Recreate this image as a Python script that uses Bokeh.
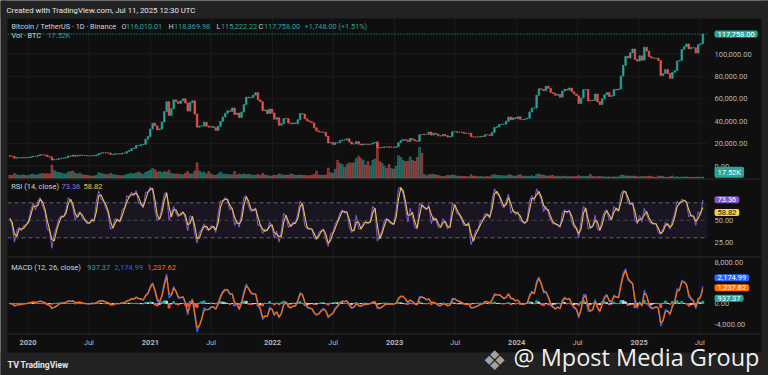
import numpy as np
import pandas as pd
from bokeh.plotting import figure
from bokeh.models import Range1d, BoxAnnotation, Label
from bokeh.embed import file_html
from bokeh.resources import INLINE

# ---------------- data: weekly candles ----------------
first_week = "2019-11-04"
first_open = 9200
close_2019 = [8800, 8500, 6900, 7400, 7500, 7100, 7500, 7400]
close_2020 = [7750, 8180, 8700, 8600, 9350, 10150, 9900, 9700, 8550, 8050,
              5400, 5830, 5900, 6780, 6900, 7120, 7700, 8900, 8730, 9670,
              8720, 9450, 9750, 9320, 9300, 9120, 9070, 9280, 9160, 9930,
              11050, 11680, 11850, 11650, 11700, 10250, 10330, 10920, 10770, 10670,
              11380, 11500, 13030, 13740, 15480, 15960, 18400, 18200, 19150, 19270,
              23850, 26300]
close_2021 = [33000, 38150, 35800, 32250, 33100, 39250, 48580, 57400, 45200, 51200,
              59000, 57350, 55800, 58200, 60000, 56200, 49000, 56600, 58200, 46400,
              34700, 35650, 35800, 39100, 35500, 34700, 35300, 34250, 31780, 35400,
              39850, 43800, 47050, 49300, 48800, 51750, 46050, 47250, 43200, 48200,
              54950, 61500, 60850, 61300, 63300, 65500, 59000, 57300, 49400, 50100,
              46700, 50800]
close_2022 = [47300, 41850, 43100, 36300, 37900, 42400, 42200, 38400, 37700, 38400,
              37800, 41250, 46800, 46400, 42150, 40400, 39450, 38470, 34060, 31300,
              30300, 30450, 29900, 26600, 20550, 21030, 19300, 20850, 20800, 22580,
              23300, 23170, 24300, 21520, 19550, 19800, 21830, 19420, 18800, 19630,
              19420, 19260, 19570, 20630, 20900, 16330, 16280, 16450, 17100, 17090,
              16740, 16840]
close_2023 = [16600, 17130, 20870, 22700, 23740, 22940, 21780, 24600, 23490, 22430,
              22000, 28000, 27990, 28450, 28330, 30300, 27590, 29230, 28450, 26920,
              26750, 28070, 27100, 25850, 26340, 30530, 30600, 30170, 30250, 30080,
              29280, 29050, 29300, 26100, 26000, 25800, 25840, 26530, 26250, 27980,
              27920, 27160, 29990, 34530, 35000, 37060, 37360, 37450, 39970, 43790,
              41370, 43000]
close_2024 = [42280, 43950, 41730, 41580, 42030, 42580, 48300, 51650, 51730, 63110,
              68960, 68390, 67210, 71280, 69360, 65660, 64940, 63120, 63890, 61480,
              66940, 68510, 67750, 69650, 66190, 64250, 62680, 55850, 60800, 68160,
              68250, 58110, 58710, 58430, 64220, 57300, 54840, 59990, 63580, 65600,
              62080, 62850, 68360, 67940, 68790, 80370, 89850, 97900, 96410, 101150,
              104460, 95100, 93720]
close_2025 = [98360, 94500, 106000, 102600, 97700, 96500, 96100, 96300, 94250, 80700,
              82580, 86080, 82550, 78300, 83700, 85100, 93700, 94300, 104100, 106500,
              109000, 104600, 105700, 105500, 100900, 108400, 109200, 117758]

# volume (thousand BTC, visual level per week)
vol_2019 = [50, 45, 75, 55, 45, 45, 55, 40]
vol_2020 = [45, 60, 65, 50, 55, 70, 75, 70, 75, 70, 220, 130, 100, 90, 85, 70, 70, 100,
            110, 120, 80, 70, 80, 55, 50, 45, 40, 35, 35, 45, 90, 80, 70, 65, 55, 80,
            60, 50, 50, 40, 40, 45, 60, 70, 80, 70, 85, 100, 80, 60, 95, 110]
vol_2021 = [130, 160, 140, 100, 110, 90, 110, 100, 130, 80, 70, 65, 70, 60, 55, 80, 110,
            70, 70, 120, 260, 120, 90, 100, 70, 110, 70, 50, 45, 70, 100, 70, 65, 60,
            55, 55, 110, 50, 70, 55, 70, 60, 65, 55, 45, 50, 60, 45, 80, 50, 45, 35]
vol_2022 = [35, 50, 45, 70, 60, 45, 50, 45, 70, 60, 45, 45, 50, 45, 45, 40, 40, 45, 60,
            120, 50, 45, 45, 50, 170, 90, 80, 150, 300, 250, 230, 180, 230, 260, 250,
            260, 330, 370, 330, 300, 220, 280, 200, 300, 320, 620, 280, 250, 200, 160,
            230, 160]
vol_2023 = [150, 200, 380, 350, 300, 280, 280, 360, 300, 280, 350, 520, 420, 60, 40, 55,
            60, 65, 50, 45, 30, 25, 30, 45, 40, 55, 45, 30, 35, 25, 25, 25, 20, 55, 30,
            35, 20, 25, 20, 20, 25, 20, 45, 60, 45, 45, 40, 40, 35, 55, 50, 35]
vol_2024 = [30, 45, 60, 30, 35, 25, 30, 40, 25, 60, 70, 50, 50, 35, 35, 40, 45, 25, 35,
            20, 30, 30, 20, 25, 25, 20, 25, 40, 25, 30, 25, 30, 60, 25, 20, 25, 25, 20,
            20, 15, 20, 15, 20, 15, 20, 45, 50, 35, 35, 35, 30, 35, 20]
vol_2025 = [20, 25, 25, 25, 30, 30, 15, 12, 35, 30, 25, 15, 12, 20, 35, 12, 20, 12, 18,
            15, 20, 12, 12, 12, 12, 15, 8, 17.52]

# RSI (14, close), weekly reading of the purple line
rsi_2019 = [52, 44, 25, 38, 42, 38, 44, 45]
rsi_2020 = [50, 62, 70, 62, 72, 76, 66, 60, 40, 38, 18, 35, 42, 52, 55, 54, 62, 76, 72, 64,
            50, 57, 60, 52, 50, 46, 47, 52, 48, 72, 84, 74, 72, 64, 58, 40, 42, 52, 50, 48,
            62, 64, 78, 76, 82, 78, 84, 70, 68, 64, 82, 82]
rsi_2021 = [88, 85, 62, 50, 52, 66, 80, 82, 50, 58, 66, 58, 54, 58, 60, 52, 38, 55, 54, 34,
            24, 36, 40, 46, 40, 38, 44, 42, 36, 58, 72, 72, 76, 72, 62, 64, 44, 50, 42, 58,
            76, 78, 66, 60, 62, 64, 44, 45, 35, 40, 38, 48]
rsi_2022 = [42, 30, 38, 25, 38, 58, 54, 42, 44, 48, 46, 58, 72, 66, 44, 40, 40, 40, 30, 28,
            36, 38, 40, 28, 20, 34, 36, 46, 50, 58, 62, 58, 60, 42, 36, 40, 56, 40, 40, 48,
            48, 46, 50, 66, 62, 26, 32, 38, 50, 52, 48, 46]
rsi_2023 = [45, 62, 86, 88, 80, 64, 48, 64, 54, 42, 40, 70, 66, 64, 62, 68, 46, 54, 50, 42,
            42, 52, 46, 40, 44, 70, 66, 58, 56, 50, 44, 44, 48, 22, 30, 38, 40, 50, 50, 58,
            56, 52, 74, 86, 80, 78, 68, 64, 72, 80, 58, 62]
rsi_2024 = [56, 60, 50, 48, 46, 52, 72, 78, 72, 86, 80, 74, 60, 66, 58, 50, 46, 46, 44, 42,
            58, 62, 58, 62, 48, 42, 40, 30, 50, 66, 62, 40, 42, 44, 56, 40, 38, 52, 60, 62,
            50, 52, 66, 62, 60, 80, 84, 82, 70, 68, 70, 50, 46]
rsi_2025 = [56, 48, 64, 56, 50, 46, 46, 46, 36, 34, 40, 48, 44, 40, 50, 58, 72, 68, 74, 72,
            70, 54, 56, 54, 44, 60, 56, 73.36]

# axis ticks and headline values
x_tick_dates = ["2020-01-01", "2020-07-01", "2021-01-01", "2021-07-01", "2022-01-01",
                "2022-07-01", "2023-01-01", "2023-07-01", "2024-01-01", "2024-07-01",
                "2025-01-01", "2025-07-01"]
x_tick_labels = ["2020", "Jul", "2021", "Jul", "2022", "Jul", "2023", "Jul", "2024",
                 "Jul", "2025", "Jul"]
price_ticks = [0, 20000, 40000, 60000, 80000, 100000]
rsi_ticks = [25, 50]
rsi_levels = [70, 50, 30]
macd_ticks = [8000, 0, -4000]
last_o, last_h, last_l, last_c = 116010.01, 118869.98, 115222.22, 117758.00
chg, chg_pct = 1748.00, 1.51
last_vol_k = 17.52
rsi_last, rsi_ma_last = 73.36, 58.82
macd_last, signal_last, hist_last = 2174.99, 1237.62, 937.37

# ---------------- assemble series ----------------
close = np.array(close_2019 + close_2020 + close_2021 + close_2022 + close_2023
                 + close_2024 + close_2025, dtype=float)
vol = np.array(vol_2019 + vol_2020 + vol_2021 + vol_2022 + vol_2023 + vol_2024
               + vol_2025, dtype=float)
rsi = np.array(rsi_2019 + rsi_2020 + rsi_2021 + rsi_2022 + rsi_2023 + rsi_2024
               + rsi_2025, dtype=float)
n = len(close)
assert len(vol) == n and len(rsi) == n, (n, len(vol), len(rsi))
opens = np.concatenate([[first_open], close[:-1]])
weeks = pd.date_range(first_week, periods=n, freq="7D")
origin = pd.Timestamp("2020-01-01")
xd = (weeks - origin).days.values + 3.5
up = close >= opens

rsi_ma = pd.Series(rsi).rolling(2, min_periods=1).mean().values

def ema(v, period_days):
    a = 1 - (1 - 2.0 / (period_days + 1)) ** 7   # daily EMA expressed per week
    out, e = [], v[0]
    for x in v:
        e = e + a * (x - e)
        out.append(e)
    return np.array(out)

macd = ema(close, 12) - ema(close, 26)
signal = ema(macd, 9)
hist = macd - signal
hist_col = []
for i, h in enumerate(hist):
    prev = hist[i - 1] if i else 0.0
    if h >= 0:
        hist_col.append("#26a69a" if h >= prev else "#b2dfdb")
    else:
        hist_col.append("#ff5252" if h < prev else "#ffcdd2")

# ---------------- layout (canvas pixels) ----------------
W, H = 768, 375
CH_L, CH_R, CH_T, CH_B = 7, 707, 18, 333      # chart panes
BLK_R, BLK_B = 761, 352                       # dark chart block incl. scales
X0_PX, PX_PER_DAY = 27.5, 0.3345
PRICE0_PX, PX_PER_USD = 165.5, 22.4 / 20000
RSI50_PX, PX_PER_RSI = 219.8, 0.875
MACD0_PX, PX_PER_MACD = 303.0, 20.6 / 4000
VOL0_PX, PX_PER_KVOL = 177.5, 1 / 17.0
SEP_Y = [178.5, 256.5, 333.5]
TAG_X, SCALE_X = 714, 714

def yr(zero_px, zero_val, ppu):
    return Range1d(zero_val - (H - zero_px) / ppu, zero_val + zero_px / ppu)

def lx(px):
    return (px - X0_PX) / PX_PER_DAY

def ly(py):
    return (PRICE0_PX - py) / PX_PER_USD

BG, OUTER, GRID, SEP = "#0f0f0f", "#222222", "#1b1b1b", "#2a2a2a"
TXT, AXC = "#d1d4dc", "#b2b5be"
UP, DN = "#26a69a", "#ef5350"
RSI_C, RSIMA_C = "#7e57c2", "#eac54f"
MACD_C, SIG_C = "#2962ff", "#ff6d00"
FONT = "Roboto"

p = figure(width=W, height=H, output_backend="svg", toolbar_location=None,
           x_range=Range1d(lx(0), lx(W)), y_range=yr(PRICE0_PX, 0, PX_PER_USD),
           x_axis_location=None, y_axis_location=None,
           min_border=0, min_border_left=0, min_border_right=0, min_border_top=0,
           min_border_bottom=0, background_fill_color=BG, border_fill_color=OUTER,
           outline_line_color=None)
p.xgrid.visible = False
p.ygrid.visible = False
p.extra_y_ranges = {
    "rsi": yr(RSI50_PX, 50, PX_PER_RSI),
    "macd": yr(MACD0_PX, 0, PX_PER_MACD),
    "vol": yr(VOL0_PX, 0, PX_PER_KVOL),
}

x_ticks = np.array((pd.to_datetime(x_tick_dates) - origin).days, dtype=float)

# grid lines (time grid through all panes, price grid in the price pane)
p.segment(x0=x_ticks, x1=x_ticks, y0=ly(CH_T), y1=ly(CH_B), line_color=GRID, line_width=1)
p.segment(x0=lx(CH_L), x1=lx(CH_R), y0=price_ticks, y1=price_ticks, line_color=GRID,
          line_width=1)

# pane separators
for py in SEP_Y:
    p.segment(x0=lx(CH_L), x1=lx(BLK_R), y0=ly(py), y1=ly(py), line_color=SEP,
              line_width=1)

# volume
p.vbar(x=xd, top=vol, bottom=0, width=5.5, y_range_name="vol",
       color=[UP if u else DN for u in up], alpha=0.45)
# candles (weekly bodies)
cc = [UP if u else DN for u in up]
p.vbar(x=xd, top=np.maximum(opens, close), bottom=np.minimum(opens, close), width=4.5,
       fill_color=cc, line_color=cc, line_width=0.7)
p.segment(x0=lx(CH_L), x1=lx(CH_R), y0=last_c, y1=last_c, line_color=UP,
          line_dash="1 2", line_width=1)

# RSI
p.add_layout(BoxAnnotation(left=lx(CH_L), right=lx(CH_R), bottom=30, top=70,
                           y_range_name="rsi", fill_color=RSI_C, fill_alpha=0.1,
                           line_color=None, level="underlay"))
p.segment(x0=lx(CH_L), x1=lx(CH_R), y0=rsi_levels, y1=rsi_levels, y_range_name="rsi",
          line_color="#787b86", line_dash="4 3", line_alpha=[0.8, 0.45, 0.8])
p.line(xd, rsi, y_range_name="rsi", line_color=RSI_C, line_width=1.1)
p.line(xd, rsi_ma, y_range_name="rsi", line_color=RSIMA_C, line_width=1.1)

# MACD
p.vbar(x=xd, top=hist, bottom=0, width=5.5, y_range_name="macd", color=hist_col)
p.line(xd, macd, y_range_name="macd", line_color=MACD_C, line_width=1.3)
p.line(xd, signal, y_range_name="macd", line_color=SIG_C, line_width=1.3)

# outer frame (light grey surround of the dark chart block)
for l, r, t, b in ((0, W, 0, CH_T), (0, W, BLK_B, H), (0, CH_L, 0, H), (BLK_R, W, 0, H)):
    p.add_layout(BoxAnnotation(left=lx(l), right=lx(r), top=ly(t), bottom=ly(b),
                               fill_color=OUTER, fill_alpha=1, line_color=None))

# ---------------- texts ----------------
def lab(px, s, color, py=None, y=None, yname="default", size="7.5px", font=FONT,
        style="normal", bg=None, base="middle", align="left", alpha=1.0, x=None):
    kw = dict(x=lx(px) if x is None else x, y=ly(py) if y is None else y, text=s,
              text_color=color, text_font=font, text_font_size=size,
              text_font_style=style, text_baseline=base, text_align=align,
              text_alpha=alpha)
    if yname != "default":
        kw["y_range_name"] = yname
    if bg is not None:
        kw.update(background_fill_color=bg,
                  padding=dict(left=3, right=3, top=1, bottom=1), border_radius=2)
    p.add_layout(Label(**kw))

lab(6, "Created with TradingView.com, Jul 11, 2025 12:30 UTC", "#e6e6e6", py=9.5,
    size="7.8px")
# price legend
row = [(11, "Bitcoin / TetherUS \u00b7 1D \u00b7 Binance", TXT), (121, "O", TXT),
       (125.5, f"{last_o:,.2f}", UP), (168, "H", TXT), (173.5, f"{last_h:,.2f}", UP),
       (216, "L", TXT), (220.5, f"{last_l:,.2f}", UP), (258, "C", TXT),
       (263.5, f"{last_c:,.2f}", UP), (304, f"+{chg:,.2f} (+{chg_pct:.2f}%)", UP)]
for px, s, c in row:
    lab(px, s, c, py=25.7, size="7.3px")
lab(11, "Vol \u00b7 BTC", TXT, py=35, size="7.3px")
lab(47, f"{last_vol_k:.2f}K", UP, py=35, size="7.3px")
# RSI legend
lab(10.7, "RSI (14, close)", TXT, py=185.7)
lab(61, f"{rsi_last:.2f}", "#9275e0", py=185.7)
lab(83, f"{rsi_ma_last:.2f}", RSIMA_C, py=185.7)
# MACD legend
lab(10.7, "MACD (12, 26, close)", TXT, py=267.3)
lab(86.7, f"{hist_last:,.2f}", UP, py=267.3)
lab(114, f"{macd_last:,.2f}", MACD_C, py=267.3)
lab(146.7, f"{signal_last:,.2f}", SIG_C, py=267.3)

# time scale
for xv, s in zip(x_ticks, x_tick_labels):
    lab(None, s, AXC, x=xv, py=342, align="center",
        style="bold" if s != "Jul" else "normal")
# price / RSI / MACD scales
for v in price_ticks:
    lab(SCALE_X, f"{v:,.2f}", AXC, y=v)
for v in rsi_ticks:
    lab(SCALE_X, f"{v:.2f}", AXC, y=v, yname="rsi")
for v in macd_ticks:
    lab(SCALE_X, f"{v:,.2f}", AXC, y=v, yname="macd")
# value tags
lab(TAG_X, f"{last_c:,.2f}", "#ffffff", y=last_c, bg=UP)
lab(TAG_X, f"{last_vol_k:.2f}K", "#ffffff", py=171.7, bg=UP)
lab(TAG_X, f"{rsi_last:.2f}", "#ffffff", y=rsi_last, yname="rsi", bg=RSI_C)
lab(TAG_X, f"{rsi_ma_last:.2f}", "#131313", y=rsi_ma_last, yname="rsi", bg="#f7d23e")
lab(TAG_X, f"{macd_last:,.2f}", "#ffffff", py=277.3, bg=MACD_C)
lab(TAG_X, f"{signal_last:,.2f}", "#ffffff", py=287.3, bg=SIG_C)
lab(TAG_X, f"{hist_last:,.2f}", "#ffffff", py=297.7, bg=UP)

# footer + watermark
lab(7, "TV", "#e6e6e6", py=364, size="9px", style="bold")
lab(20, "TradingView", "#e6e6e6", py=364, size="8.5px", style="bold")
lab(482, "\u2756", "#b5b5b5", py=360, size="27px", font="DejaVu Sans",
    base="alphabetic", alpha=0.9)
lab(513, "@ Mpost Media Group", "#ffffff", py=356.7, size="23.5px", font="Open Sans",
    base="alphabetic", alpha=0.95)

open("out.html", "w").write(file_html(p, INLINE))
